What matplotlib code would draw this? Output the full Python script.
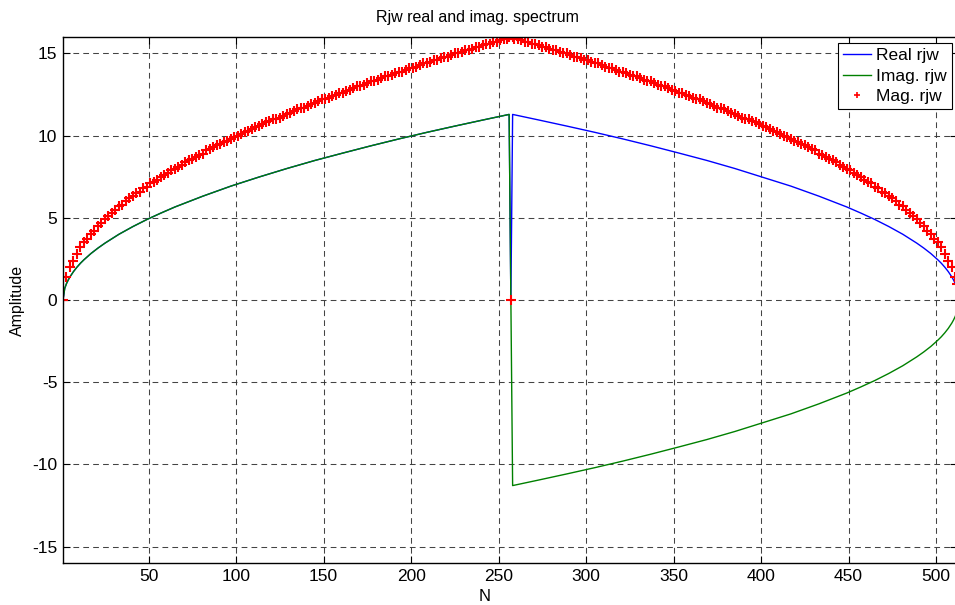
import numpy as np
import matplotlib
matplotlib.use("Agg")
import matplotlib.pyplot as plt

plt.rcParams['font.family'] = ['Liberation Sans', 'DejaVu Sans']
plt.rcParams['axes.unicode_minus'] = False

# ---------------- data ----------------
# Real / Imag. first half (N = 1 .. 256), Imag. equals Real there
N_first = [1, 2, 3, 4, 5, 7, 9, 11, 13, 17, 21, 25, 33, 41, 49, 57, 65, 81, 97,
           113, 129, 145, 161, 177, 193, 209, 225, 241, 256]
real_first = [0.0, 0.71, 1.0, 1.22, 1.41, 1.73, 2.0, 2.24, 2.45, 2.83, 3.16, 3.46,
              4.0, 4.47, 4.9, 5.29, 5.66, 6.32, 6.93, 7.48, 8.0, 8.49, 8.94, 9.38,
              9.8, 10.2, 10.58, 10.95, 11.29]
imag_first = [0.0, 0.71, 1.0, 1.22, 1.41, 1.73, 2.0, 2.24, 2.45, 2.83, 3.16, 3.46,
              4.0, 4.47, 4.9, 5.29, 5.66, 6.32, 6.93, 7.48, 8.0, 8.49, 8.94, 9.38,
              9.8, 10.2, 10.58, 10.95, 11.29]
# centre sample N = 257
N_mid = [257]
real_mid = [0.0]
imag_mid = [0.0]
# second half (N = 258 .. 512)
N_second = [258, 273, 289, 305, 321, 337, 353, 369, 385, 417, 433, 449, 457, 465,
            473, 481, 489, 493, 497, 501, 503, 505, 507, 509, 510, 511, 512]
real_second = [11.29, 10.95, 10.58, 10.2, 9.8, 9.38, 8.94, 8.49, 8.0, 6.93, 6.32,
               5.66, 5.29, 4.9, 4.47, 4.0, 3.46, 3.16, 2.83, 2.45, 2.24, 2.0, 1.73,
               1.41, 1.22, 1.0, 0.71]
imag_second = [-11.29, -10.95, -10.58, -10.2, -9.8, -9.38, -8.94, -8.49, -8.0,
               -6.93, -6.32, -5.66, -5.29, -4.9, -4.47, -4.0, -3.46, -3.16, -2.83,
               -2.45, -2.24, -2.0, -1.73, -1.41, -1.22, -1.0, -0.71]

# Magnitude samples
N_mag_rise = list(range(1, 256, 2)) + [256]
mag_rise = [0.0, 1.4, 2.0, 2.4, 2.8, 3.2, 3.5, 3.7, 4.0, 4.2, 4.5, 4.7, 4.9, 5.1, 5.3,
            5.5, 5.7, 5.8, 6.0, 6.2, 6.3, 6.5, 6.6, 6.8, 6.9, 7.1, 7.2, 7.3, 7.5,
            7.6, 7.7, 7.9, 8.0, 8.1, 8.2, 8.4, 8.5, 8.6, 8.7, 8.8, 8.9, 9.1, 9.2,
            9.3, 9.4, 9.5, 9.6, 9.7, 9.8, 9.9, 10.0, 10.1, 10.2, 10.3, 10.4, 10.5,
            10.6, 10.7, 10.8, 10.9, 11.0, 11.0, 11.1, 11.2, 11.3, 11.4, 11.5, 11.6,
            11.7, 11.7, 11.8, 11.9, 12.0, 12.1, 12.2, 12.2, 12.3, 12.4, 12.5, 12.6,
            12.6, 12.7, 12.8, 12.9, 13.0, 13.0, 13.1, 13.2, 13.3, 13.3, 13.4, 13.5,
            13.6, 13.6, 13.7, 13.8, 13.9, 13.9, 14.0, 14.1, 14.1, 14.2, 14.3, 14.4,
            14.4, 14.5, 14.6, 14.6, 14.7, 14.8, 14.8, 14.9, 15.0, 15.0, 15.1, 15.2,
            15.2, 15.3, 15.4, 15.4, 15.5, 15.6, 15.6, 15.7, 15.7, 15.8, 15.9, 15.9,
            16.0]
N_mag_mid = [257]
mag_mid = [0.0]
N_mag_fall = [258] + list(range(259, 512, 2)) + [512]
mag_fall = [16.0, 15.9, 15.9, 15.8, 15.7, 15.7, 15.6, 15.6, 15.5, 15.4, 15.4, 15.3,
            15.2, 15.2, 15.1, 15.0, 15.0, 14.9, 14.8, 14.8, 14.7, 14.6, 14.6, 14.5,
            14.4, 14.4, 14.3, 14.2, 14.1, 14.1, 14.0, 13.9, 13.9, 13.8, 13.7, 13.6,
            13.6, 13.5, 13.4, 13.3, 13.3, 13.2, 13.1, 13.0, 13.0, 12.9, 12.8, 12.7,
            12.6, 12.6, 12.5, 12.4, 12.3, 12.2, 12.2, 12.1, 12.0, 11.9, 11.8, 11.7,
            11.7, 11.6, 11.5, 11.4, 11.3, 11.2, 11.1, 11.0, 11.0, 10.9, 10.8, 10.7,
            10.6, 10.5, 10.4, 10.3, 10.2, 10.1, 10.0, 9.9, 9.8, 9.7, 9.6, 9.5, 9.4,
            9.3, 9.2, 9.1, 8.9, 8.8, 8.7, 8.6, 8.5, 8.4, 8.2, 8.1, 8.0, 7.9, 7.7,
            7.6, 7.5, 7.3, 7.2, 7.1, 6.9, 6.8, 6.6, 6.5, 6.3, 6.2, 6.0, 5.8, 5.7,
            5.5, 5.3, 5.1, 4.9, 4.7, 4.5, 4.2, 4.0, 3.7, 3.5, 3.2, 2.8, 2.4, 2.0,
            1.4, 1.0]

x_ticks = [50, 100, 150, 200, 250, 300, 350, 400, 450, 500]
y_ticks = [-15, -10, -5, 0, 5, 10, 15]
series_labels = ["Real rjw", "Imag. rjw", "Mag. rjw"]
title_text = "Rjw real and imag. spectrum"
x_label = "N"
y_label = "Amplitude"

# ---------------- assemble ----------------
N_line = np.array(N_first + N_mid + N_second)
real = np.array(real_first + real_mid + real_second)
imag = np.array(imag_first + imag_mid + imag_second)
N_mag = np.array(N_mag_rise + N_mag_mid + N_mag_fall)
mag = np.array(mag_rise + mag_mid + mag_fall)

fig = plt.figure(figsize=(9.55, 6.05), dpi=100)
ax = fig.add_axes([63 / 955, 42 / 605, 894 / 955, 526 / 605])

ax.plot(N_line, real, color=(0, 0, 1), lw=1.0, label=series_labels[0])
ax.plot(N_line, imag, color=(0, 0.5, 0), lw=1.0, label=series_labels[1])
ax.plot(N_mag, mag, linestyle='none', marker='+', color=(1, 0, 0),
        markersize=6.5, markeredgewidth=1.5, label=series_labels[2])

ax.set_xlim(1, 512)
ax.set_ylim(-16, 16)
ax.set_xticks(x_ticks)
ax.set_yticks(y_ticks)
ax.tick_params(direction='in', length=5, width=0.8, top=True, right=True,
               labelsize=12.5, pad=4, colors='k')
for s in ax.spines.values():
    s.set_linewidth(1.0)
    s.set_color('k')
ax.grid(True, color='#303030', linestyle=(0, (5.5, 4)), linewidth=0.75, alpha=0.9)
ax.set_axisbelow(True)

ax.set_title(title_text, fontsize=11.5, x=0.464, pad=11)
ax.set_xlabel(x_label, fontsize=12, labelpad=0)
ax.xaxis.set_label_coords(0.472, -0.05)
ax.set_ylabel(y_label, fontsize=11.5, labelpad=5)

leg = ax.legend(loc='upper right', bbox_to_anchor=(952 / 955, (605 - 43) / 605),
                bbox_transform=fig.transFigure, borderaxespad=0, fontsize=12.5,
                fancybox=False, framealpha=1, edgecolor='k', handlelength=1.6,
                handletextpad=0.3, borderpad=0.3, labelspacing=0.3)
leg.get_frame().set_linewidth(0.8)
for h in leg.legend_handles:
    if h.get_marker() == '+':
        h.set_markersize(5)
        h.set_markeredgewidth(1.2)

fig.savefig("out.png", dpi=100)
